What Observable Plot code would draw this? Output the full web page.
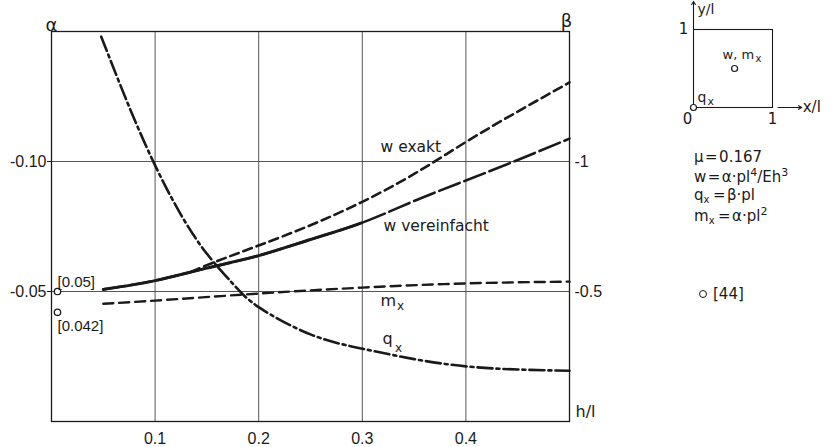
<!DOCTYPE html>
<html>
<head>
<meta charset="utf-8">
<script src="https://cdn.jsdelivr.net/npm/d3@7"></script>
<script src="https://cdn.jsdelivr.net/npm/@observablehq/plot@0.6"></script>
<style>
  html, body { margin: 0; padding: 0; background: #fff; }
  #wrap { position: relative; width: 838px; height: 447px; overflow: hidden; font-family: "DejaVu Sans", sans-serif; color: #1a1a1a; }
  #wrap svg { position: absolute; }
  .f { position: absolute; font-size: 15px; line-height: 16px; white-space: nowrap; }
  .sb { font-size: 10px; position: relative; top: 3px; margin-right: 2px; }
  .sp { font-size: 11px; position: relative; top: -6px; }
  .ring { display: inline-block; width: 6px; height: 6px; border: 1.2px solid #1a1a1a; border-radius: 50%; margin-right: 6px; position: relative; top: -1px; }
</style>
</head>
<body>
<div id="wrap"></div>
<script>
// ---- data ----
const xTicks = [0.1, 0.2, 0.3, 0.4];          // h/l
const alphaTicks = [-0.10, -0.05];            // left axis α
// right axis β = 10·α  → labels -1, -0.5

// w vereinfacht (α): solid up to h/l = 0.3, long dashes beyond
const wH = [0.05, 0.1, 0.15, 0.2, 0.25, 0.3, 0.35, 0.4, 0.45, 0.5];
const wVereinfacht = [-0.0508, -0.0542, -0.0590, -0.0638, -0.0700, -0.0765, -0.0848, -0.0927, -0.1006, -0.1088];
const wSolidUntil = 0.3;

// w exakt (α)
const wExaktH = [0.135, 0.16, 0.2, 0.25, 0.3, 0.35, 0.4, 0.45, 0.5];
const wExakt = [-0.0576, -0.0617, -0.0677, -0.0755, -0.0845, -0.0952, -0.1075, -0.1192, -0.1304];

// m_x (α)
const mxH = [0.05, 0.1, 0.2, 0.3, 0.4, 0.5];
const mxAlpha = [-0.0453, -0.0465, -0.0492, -0.0515, -0.0531, -0.0538];

// q_x (β)
const qxH = [0.048, 0.075, 0.1, 0.125, 0.15, 0.175, 0.2, 0.25, 0.3, 0.35, 0.4, 0.45, 0.5];
const qxBeta = [-1.48, -1.21, -0.985, -0.795, -0.645, -0.53, -0.44, -0.335, -0.28, -0.24, -0.212, -0.2, -0.195];

// reference values [44] at h/l = 0
const refH = [0, 0];
const refAlpha = [-0.05, -0.042];
const refLabels = ["[0.05]", "[0.042]"];

// ---- build rows ----
const vRows = wH.map((h, i) => ({h, a: wVereinfacht[i]}));
const eRows = wExaktH.map((h, i) => ({h, a: wExakt[i]}));
const mRows = mxH.map((h, i) => ({h, a: mxAlpha[i]}));
const qRows = qxH.map((h, i) => ({h, b: qxBeta[i]}));
const rRows = refH.map((h, i) => ({h, a: refAlpha[i], label: refLabels[i]}));

const ink = "#1a1a1a";
const inkSolid = "#1a1a1b";   // marks the solid copy of "w vereinfacht"
const lw = 2.6;
const tickFont = "Liberation Sans, Arial, sans-serif";
const labFont = "DejaVu Sans, sans-serif";
const crv = "natural";

const main = Plot.plot({
  width: 838, height: 447,
  marginLeft: 51, marginRight: 269, marginTop: 31, marginBottom: 26,
  style: {fontFamily: tickFont, fontSize: "16px", color: ink, background: "transparent", overflow: "visible"},
  x: {domain: [0, 0.5]},
  y: {domain: [0, -0.15]},
  marks: [
    Plot.ruleX(xTicks, {stroke: "#444", strokeWidth: 0.9}),
    Plot.ruleY(alphaTicks, {stroke: "#444", strokeWidth: 0.9}),
    Plot.frame({stroke: ink, strokeWidth: 1.3}),
    Plot.axisX(xTicks, {label: null, tickSize: 0, tickPadding: 11, tickFormat: d => String(d), fontSize: 16}),
    Plot.axisY(alphaTicks, {anchor: "left", label: null, tickSize: 4, tickPadding: 1, tickFormat: d => d.toFixed(2), fontSize: 16}),
    Plot.axisY(alphaTicks, {anchor: "right", label: null, tickSize: 0, tickPadding: 5, tickFormat: d => String(Math.round(d * 100) / 10), fontSize: 16}),
    // curves
    Plot.line(vRows, {x: "h", y: "a", curve: crv, stroke: ink, strokeWidth: lw, strokeDasharray: "22,5"}),
    Plot.line(vRows, {x: "h", y: "a", curve: crv, stroke: inkSolid, strokeWidth: lw + 0.3}),
    Plot.line(eRows, {x: "h", y: "a", curve: crv, stroke: ink, strokeWidth: lw, strokeDasharray: "9,5"}),
    Plot.line(mRows, {x: "h", y: "a", curve: crv, stroke: ink, strokeWidth: 2.4, strokeDasharray: "10,6"}),
    Plot.line(qRows, {x: "h", y: d => d.b / 10, curve: crv, stroke: ink, strokeWidth: lw, strokeDasharray: "15,4,3,4"}),
    // reference points
    Plot.dot(rRows, {x: "h", y: "a", dx: 6, r: 3.2, fill: "white", stroke: ink, strokeWidth: 1.3}),
    Plot.text(rRows.slice(0, 1), {x: "h", y: "a", text: "label", dx: 6, dy: -9, textAnchor: "start", fontSize: 15, fontFamily: tickFont}),
    Plot.text(rRows.slice(1), {x: "h", y: "a", text: "label", dx: 6, dy: 14, textAnchor: "start", fontSize: 15, fontFamily: tickFont}),
    // curve labels
    Plot.text(["w exakt"], {x: 0.3176, y: -0.1054, text: d => d, textAnchor: "start", fontSize: 15.5, fontFamily: labFont}),
    Plot.text(["w vereinfacht"], {x: 0.3205, y: -0.0750, text: d => d, textAnchor: "start", fontSize: 15.5, fontFamily: labFont}),
    Plot.text(["m"], {x: 0.3176, y: -0.0465, text: d => d, textAnchor: "start", fontSize: 16, fontFamily: labFont}),
    Plot.text(["x"], {x: 0.3335, y: -0.0442, text: d => d, textAnchor: "start", fontSize: 12, fontFamily: labFont}),
    Plot.text(["q"], {x: 0.3195, y: -0.0319, text: d => d, textAnchor: "start", fontSize: 16, fontFamily: labFont}),
    Plot.text(["x"], {x: 0.3315, y: -0.0283, text: d => d, textAnchor: "start", fontSize: 12, fontFamily: labFont}),
    // axis titles
    Plot.text(["α"], {frameAnchor: "top-left", text: d => d, dy: -13, textAnchor: "middle", fontSize: 18, fontFamily: labFont}),
    Plot.text(["β"], {frameAnchor: "top-right", text: d => d, dx: -3, dy: -17, textAnchor: "middle", fontSize: 18, fontFamily: labFont}),
    Plot.text(["h/l"], {frameAnchor: "bottom-right", text: d => d, dx: 6, dy: -5, textAnchor: "start", fontSize: 16, fontFamily: labFont})
  ]
});
main.style.left = "0px"; main.style.top = "0px";
const wrap = document.getElementById("wrap");
wrap.appendChild(main);

// solid part of "w vereinfacht": same curve, drawn only up to h/l = wSolidUntil
{
  const sol = main.querySelector(`g[stroke="${inkSolid}"] path`) || main.querySelector(`path[stroke="${inkSolid}"]`);
  if (sol) {
    const L = sol.getTotalLength();
    const target = main.scale("x").apply(wSolidUntil);
    let lo = 0, hi = L;
    for (let k = 0; k < 40; k++) {
      const mid = (lo + hi) / 2;
      if (sol.getPointAtLength(mid).x < target) lo = mid; else hi = mid;
    }
    sol.setAttribute("stroke-dasharray", `${lo} ${L + 10}`);
  }
}

// ---- inset: plate sketch (x/l, y/l) ----
const inset = Plot.plot({
  width: 180, height: 135,
  marginLeft: 33, marginRight: 68, marginTop: 29, marginBottom: 28,
  style: {fontFamily: labFont, fontSize: "14px", color: ink, background: "transparent", overflow: "visible"},
  x: {domain: [0, 1], axis: null},
  y: {domain: [0, 1], axis: null},
  marks: [
    Plot.frame({stroke: ink, strokeWidth: 1.1}),
    Plot.arrow([{x1: 0, y1: 1, x2: 0, y2: 1.36}], {x1: "x1", y1: "y1", x2: "x2", y2: "y2", stroke: ink, strokeWidth: 1.1, headLength: 5}),
    Plot.arrow([{x1: 1.07, y1: 0, x2: 1.37, y2: 0}], {x1: "x1", y1: "y1", x2: "x2", y2: "y2", stroke: ink, strokeWidth: 1.1, headLength: 5}),
    Plot.dot([{x: 0, y: 0}, {x: 0.52, y: 0.5}], {x: "x", y: "y", r: 3, fill: "white", stroke: ink, strokeWidth: 1.2}),
    Plot.text(["y/l"], {x: 0, y: 1.36, text: d => d, dx: 4, dy: 8, textAnchor: "start", fontSize: 14}),
    Plot.text(["1"], {x: 0, y: 1, text: d => d, dx: -10, textAnchor: "middle", fontSize: 15}),
    Plot.text(["0"], {x: 0, y: 0, text: d => d, dx: -6, dy: 12, textAnchor: "middle", fontSize: 15}),
    Plot.text(["1"], {x: 1, y: 0, text: d => d, dx: 0, dy: 12, textAnchor: "middle", fontSize: 15}),
    Plot.text(["x/l"], {x: 1.37, y: 0, text: d => d, dx: 1, textAnchor: "start", fontSize: 15}),
    Plot.text(["q"], {x: 0, y: 0, text: d => d, dx: 4, dy: -10, textAnchor: "start", fontSize: 14}),
    Plot.text(["x"], {x: 0, y: 0, text: d => d, dx: 14, dy: -6, textAnchor: "start", fontSize: 11}),
    Plot.text(["w, m"], {x: 0.52, y: 0.5, text: d => d, dx: -12, dy: -14, textAnchor: "start", fontSize: 13}),
    Plot.text(["x"], {x: 0.52, y: 0.5, text: d => d, dx: 21, dy: -10, textAnchor: "start", fontSize: 10})
  ]
});
inset.style.left = "660px"; inset.style.top = "0px";
wrap.appendChild(inset);

// ---- formula notes ----
const hs = "\u200A";
const notes = [
  {top: 149, html: `μ${hs}=${hs}0.167`},
  {top: 169, html: `w${hs}=${hs}α·pl<span class='sp'>4</span>/Eh<span class='sp'>3</span>`},
  {top: 187, html: `q<span class='sb'>x</span>${hs}=${hs}β·pl`},
  {top: 208, html: `m<span class='sb'>x</span>${hs}=${hs}α·pl<span class='sp'>2</span>`},
  {top: 286, html: "<span class='ring'></span>[44]", left: 699}
];
for (const n of notes) {
  const d = document.createElement("div");
  d.className = "f";
  d.style.left = (n.left ?? 694) + "px";
  d.style.top = n.top + "px";
  d.innerHTML = n.html;
  wrap.appendChild(d);
}
</script>
</body>
</html>
